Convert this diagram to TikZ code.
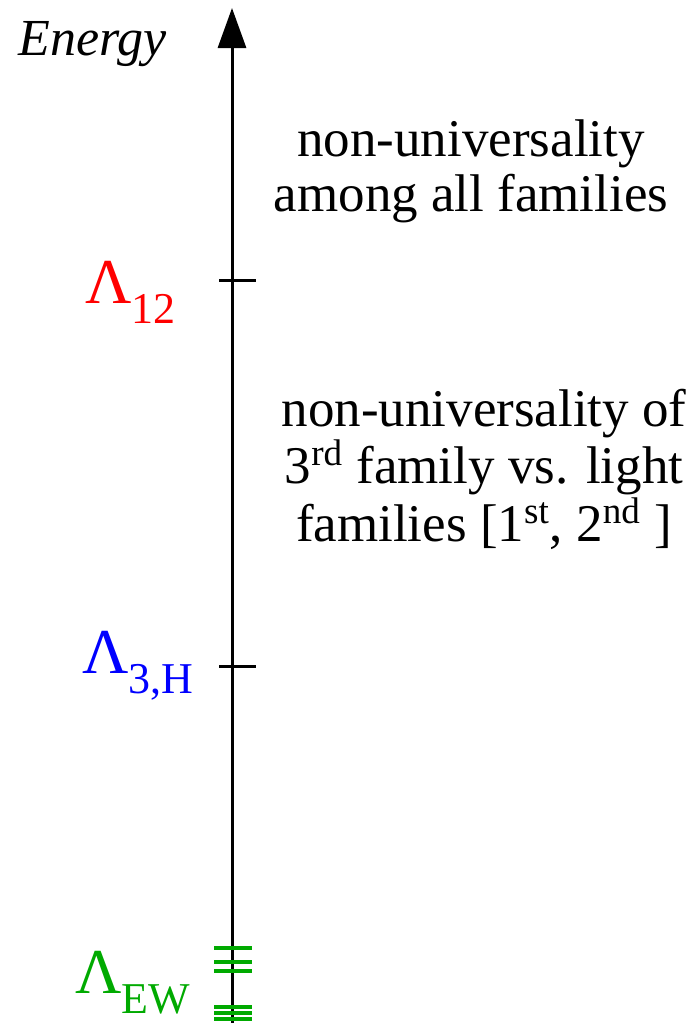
\documentclass[tikz,border=0pt]{standalone}
\usepackage{fontspec}
\setmainfont{Liberation Serif}
\usetikzlibrary{arrows.meta}
\definecolor{ewgreen}{RGB}{0,170,0}
\tikzset{
  scalelab/.style={anchor=base west,inner sep=0pt,font=\fontsize{32pt}{32pt}\selectfont},
  regiontext/.style={anchor=north,inner sep=0pt,align=center,font=\fontsize{26.5pt}{27.5pt}\selectfont},
  tickmark/.style={line width=1.5pt},
  ewline/.style={ewgreen,line width=2pt}
}
\newcommand{\lowsub}[1]{\raisebox{-10pt}{\fontsize{22pt}{22pt}\selectfont #1}}
\begin{document}
\begin{tikzpicture}[x=0.5pt,y=-0.5pt]
\useasboundingbox (0,0) rectangle (700,1023);
\coordinate (axisbot) at (232,1023);
\coordinate (axistop) at (232,8);
\draw[line width=1.5pt,-{Triangle[length=20pt,width=14pt]}] (axisbot) -- (axistop);
\draw[tickmark] (219,280) -- (256,280);
\draw[tickmark] (219,666) -- (256,666);
\foreach \y in {948,962,971,1007,1013,1019}
  \draw[ewline] (214,\y) -- (252,\y);
\node[anchor=base west,inner sep=0pt,font=\fontsize{26pt}{26pt}\selectfont\itshape] (energy) at (18,55) {Energy};
\node[scalelab,red] (lam12) at (85,303) {Λ\lowsub{12}};
\node[scalelab,blue] (lam3h) at (82,673) {Λ\lowsub{3,H}};
\node[scalelab,ewgreen] (lamew) at (75,993) {Λ\lowsub{EW}};
\node[regiontext] (allfam) at (471,119) {non-universality\\among all families};
\node[regiontext] (thirdfam) at (484,389) {non-universality of\\3\textsuperscript{rd} family vs. light\\families [1\textsuperscript{st}, 2\textsuperscript{nd} ]};
\end{tikzpicture}
\end{document}
